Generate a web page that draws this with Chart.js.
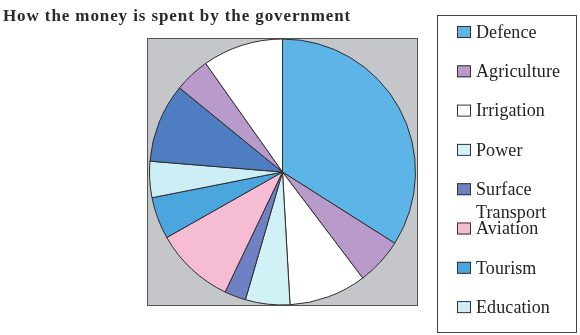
<!DOCTYPE html>
<html>
<head>
<meta charset="utf-8">
<script src="https://cdn.jsdelivr.net/npm/chart.js@4.4.1/dist/chart.umd.min.js"></script>
<style>
  html, body { margin: 0; padding: 0; background: #fff; }
  #wrap { width: 580px; height: 335px; }
</style>
</head>
<body>
<div id="wrap"><canvas id="pie" width="580" height="335"></canvas></div>
<script>
// Data (share of spending, clockwise from 12 o'clock)
const chartTitle = 'How the money is spent by the government';
const sectors = ['Defence', 'Agriculture', 'Irrigation', 'Power', 'Surface Transport',
                 'Aviation', 'Tourism', 'Education', 'Others 1', 'Others 2', 'Others 3'];
const shares = [34.0, 5.7, 9.4, 5.4, 2.6, 9.7, 5.1, 4.4, 9.6, 4.3, 9.8];
const sliceColors = ['#5db4e6', '#b89bcb', '#ffffff', '#d2f1f7', '#6f81c2',
                     '#f6bcd4', '#4ba6de', '#cdeef5', '#4f7dc1', '#b89bcb', '#ffffff'];
// only the first eight sectors are named in the legend
const legendCount = 8;

// Grey plot area behind the pie + title + boxed legend
const decorations = {
    id: 'decorations',
    beforeDraw(chart) {
        const ctx = chart.ctx;
        const a = chart.chartArea;
        ctx.save();
        ctx.fillStyle = '#c5c6c9';
        ctx.fillRect(a.left, a.top, a.right - a.left, a.bottom - a.top);
        ctx.strokeStyle = '#555';
        ctx.lineWidth = 1;
        ctx.strokeRect(a.left + 0.5, a.top + 0.5, a.right - a.left - 1, a.bottom - a.top - 1);
        ctx.restore();
    },
    afterDraw(chart) {
        const ctx = chart.ctx;
        ctx.save();
        // title
        ctx.fillStyle = '#2a2a2a';
        ctx.font = 'bold 17px "Liberation Serif", "Times New Roman", serif';
        ctx.letterSpacing = '0.9px';
        ctx.textBaseline = 'alphabetic';
        ctx.fillText(chartTitle, 3, 21);

        // legend box
        ctx.letterSpacing = '0.1px';
        ctx.strokeStyle = '#444';
        ctx.lineWidth = 1;
        ctx.strokeRect(437.5, 15.5, 139, 317);

        ctx.font = '18px "Liberation Serif", "Times New Roman", serif';
        ctx.textBaseline = 'middle';
        const labels = chart.data.labels;
        const colors = chart.data.datasets[0].backgroundColor;
        for (let i = 0; i < legendCount; i++) {
            const y = 32 + i * 39.3;
            ctx.fillStyle = colors[i];
            ctx.fillRect(457, y - 6, 14, 12);
            ctx.strokeStyle = '#333';
            ctx.strokeRect(457.5, y - 5.5, 13, 11);
            // word wrap inside the box
            const words = labels[i].split(' ');
            let line = '';
            let ly = y + 1;
            ctx.fillStyle = '#222';
            words.forEach(w => {
                const test = line ? line + ' ' + w : w;
                if (ctx.measureText(test).width > 100 && line) {
                    ctx.fillText(line, 476, ly);
                    line = w;
                    ly += 23;
                } else {
                    line = test;
                }
            });
            ctx.fillText(line, 476, ly);
        }
        ctx.restore();
    }
};

new Chart(document.getElementById('pie'), {
    type: 'pie',
    data: {
        labels: sectors,
        datasets: [{
            data: shares,
            backgroundColor: sliceColors,
            borderColor: '#2e2e2e',
            borderWidth: 1
        }]
    },
    options: {
        responsive: false,
        animation: false,
        devicePixelRatio: 1,
        radius: 133,
        layout: { padding: { left: 147, right: 162, top: 38, bottom: 29 } },
        plugins: {
            legend: { display: false },
            tooltip: { enabled: false }
        }
    },
    plugins: [decorations]
});
</script>
</body>
</html>
